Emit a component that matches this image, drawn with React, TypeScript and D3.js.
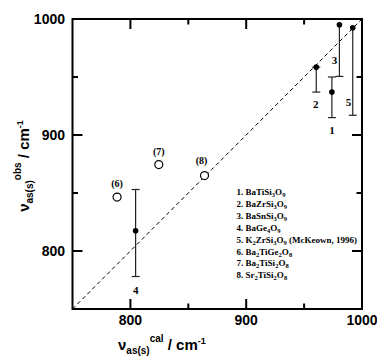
import React from 'react'
import * as d3 from 'd3'

// filled points 1-5 (with error bars)
const ids = ['1', '2', '3', '4', '5']
const calFilled = [974, 960.5, 980.5, 804.5, 992]
const obsFilled = [937, 958.5, 995, 817.5, 992.5]
const errTop = [950, 958.5, 995, 853, 992.5]
const errBottom = [915, 937, 950.5, 778, 917]
const hasTopCap = [true, true, false, true, false]
const idLabelCal = [974, 960, 976.3, 804.7, 988.4]
const idLabelObs = [904.3, 926.7, 964.7, 766.4, 928.4]

// open points 6-8
const openIds = ['(6)', '(7)', '(8)']
const calOpen = [788.5, 824.5, 864]
const obsOpen = [846.5, 874.5, 865]
const openLabelCal = [788.5, 824.5, 861.5]
const openLabelObs = [858.5, 885.5, 878]

const legendItems = [
  '1. BaTiSi_3O_9',
  '2. BaZrSi_3O_9',
  '3. BaSnSi_3O_9',
  '4. BaGe_4O_9',
  '5. K_2ZrSi_3O_9 (McKeown, 1996)',
  '6. Ba_2TiGe_2O_8',
  '7. Ba_2TiSi_2O_8',
  '8. Sr_2TiSi_2O_8',
]

const majorTicks = [800, 900, 1000]
const minorTicks = [850, 950]

const W = 377
const H = 356
const m = { left: 72.5, right: 362, top: 19, bottom: 309 }

const sans = 'Liberation Sans, Arial, sans-serif'
const serif = 'Liberation Serif, Times New Roman, serif'

// split "Ba_2TiSi_2O_8" into normal / subscript pieces
function chem(s: string) {
  const parts: { t: string; sub: boolean }[] = []
  let buf = ''
  for (let i = 0; i < s.length; i++) {
    if (s[i] === '_' && i + 1 < s.length) {
      if (buf) parts.push({ t: buf, sub: false })
      buf = ''
      parts.push({ t: s[i + 1], sub: true })
      i++
    } else buf += s[i]
  }
  if (buf) parts.push({ t: buf, sub: false })
  let shifted = false
  return parts.map((p, i) => {
    let dy = 0
    if (p.sub && !shifted) { dy = 2; shifted = true }
    if (!p.sub && shifted) { dy = -2; shifted = false }
    return (
      <tspan key={i} dy={dy} fontSize={p.sub ? 6.5 : 9}>{p.t}</tspan>
    )
  })
}

export default function App() {
  const x = d3.scaleLinear().domain([750, 1000]).range([m.left, m.right])
  const y = d3.scaleLinear().domain([750, 1000]).range([m.bottom, m.top])

  const diag = d3.line<number>().x(d => x(d)).y(d => y(d))

  return (
    <svg width={W} height={H} style={{ position: 'absolute', left: 0, top: 0, background: '#fff' }}>
      {/* ticks on all sides, inward */}
      <g stroke="#000" strokeWidth={2}>
        {[...majorTicks.map(t => [t, 10]), ...minorTicks.map(t => [t, 5.5])].map(([t, len]) => (
          <g key={t}>
            <line x1={x(t)} x2={x(t)} y1={m.bottom} y2={m.bottom - len} />
            <line x1={x(t)} x2={x(t)} y1={m.top} y2={m.top + len} />
            <line y1={y(t)} y2={y(t)} x1={m.left} x2={m.left + len} />
            <line y1={y(t)} y2={y(t)} x1={m.right} x2={m.right - len} />
          </g>
        ))}
      </g>
      <rect x={m.left} y={m.top} width={m.right - m.left} height={m.bottom - m.top} fill="none" stroke="#000" strokeWidth={2} />

      {/* tick labels */}
      <g fontFamily={sans} fontWeight="bold" fontSize={14} fill="#000">
        {majorTicks.map(t => (
          <text key={'x' + t} x={x(t)} y={325} textAnchor="middle">{t}</text>
        ))}
        {majorTicks.map(t => (
          <text key={'y' + t} x={65} y={y(t)} dy="0.36em" textAnchor="end">{t}</text>
        ))}
      </g>

      {/* y = x */}
      <path d={diag([750, 1000]) ?? ''} fill="none" stroke="#000" strokeWidth={1} strokeDasharray="4,3" />

      {/* error bars */}
      <g stroke="#222" strokeWidth={1.2}>
        {ids.map((id, i) => (
          <g key={id}>
            <line x1={x(calFilled[i])} x2={x(calFilled[i])} y1={y(errTop[i])} y2={y(errBottom[i])} />
            <line x1={x(calFilled[i]) - 4} x2={x(calFilled[i]) + 4} y1={y(errBottom[i])} y2={y(errBottom[i])} />
            {hasTopCap[i] && (
              <line x1={x(calFilled[i]) - 4} x2={x(calFilled[i]) + 4} y1={y(errTop[i])} y2={y(errTop[i])} />
            )}
          </g>
        ))}
      </g>

      {/* filled points */}
      {ids.map((id, i) => (
        <circle key={id} cx={x(calFilled[i])} cy={y(obsFilled[i])} r={2.8} fill="#000" />
      ))}

      {/* open points */}
      {openIds.map((id, i) => (
        <circle key={id} cx={x(calOpen[i])} cy={y(obsOpen[i])} r={4} fill="#fff" stroke="#000" strokeWidth={1.2} />
      ))}

      {/* point labels */}
      <g fontFamily={serif} fontWeight="bold" fill="#000" textAnchor="middle">
        {ids.map((id, i) => (
          <text key={id} x={x(idLabelCal[i])} y={y(idLabelObs[i])} dy="0.35em" fontSize={11}>{id}</text>
        ))}
        {openIds.map((id, i) => (
          <text key={id} x={x(openLabelCal[i])} y={y(openLabelObs[i])} dy="0.35em" fontSize={10}>{id}</text>
        ))}
      </g>

      {/* legend */}
      <g fontFamily={serif} fontWeight="bold" fill="#000">
        {legendItems.map((s, i) => (
          <text key={s} x={236.5} y={195 + i * 11.9}>{chem(s)}</text>
        ))}
      </g>

      {/* axis titles */}
      <text x={118} y={350} fontFamily={sans} fontWeight="bold" fontSize={15} fill="#000">
        <tspan>ν</tspan>
        <tspan dy={4} fontSize={10}>as(s)</tspan>
        <tspan dy={-12} fontSize={10}>cal</tspan>
        <tspan dy={8}> / cm</tspan>
        <tspan dy={-6} fontSize={9}>-1</tspan>
      </text>
      <text transform={`translate(29, ${(m.top + m.bottom) / 2 + 2}) rotate(-90)`} textAnchor="middle" fontFamily={sans} fontWeight="bold" fontSize={15} fill="#000">
        <tspan>ν</tspan>
        <tspan dy={4} fontSize={10}>as(s)</tspan>
        <tspan dy={-12} fontSize={10}>obs</tspan>
        <tspan dy={8}> / cm</tspan>
        <tspan dy={-6} fontSize={9}>-1</tspan>
      </text>
    </svg>
  )
}
